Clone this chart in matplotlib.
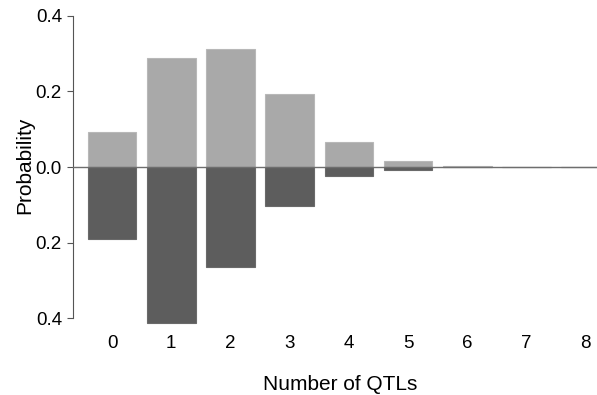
import matplotlib
matplotlib.use("Agg")
import matplotlib.pyplot as plt
from matplotlib.ticker import FuncFormatter

plt.rcParams['font.family'] = ['Liberation Sans', 'DejaVu Sans']

qtls = [0, 1, 2, 3, 4, 5, 6, 7, 8]
upper = [0.093, 0.289, 0.313, 0.193, 0.066, 0.017, 0.003, 0.0, 0.0]
lower = [0.190, 0.413, 0.265, 0.103, 0.024, 0.008, 0.001, 0.0, 0.0]

fig = plt.figure(figsize=(5.97, 3.95), dpi=100)
ax = fig.add_axes([0.1223, 0.1757, 0.8777, 0.803])

ax.bar(qtls, upper, width=0.82, color='#a9a9a9', edgecolor='#b8b8b8', linewidth=0.8, zorder=2)
ax.bar(qtls, [-v for v in lower], width=0.82, color='#5d5d5d', edgecolor='#6a6a6a', linewidth=0.8, zorder=2)
ax.axhline(0, color='#6e6e6e', linewidth=1.0, zorder=3)

ax.set_xlim(-0.66, 8.19)
ax.set_ylim(-0.42, 0.42)
ax.set_yticks([-0.4, -0.2, 0.0, 0.2, 0.4])
ax.yaxis.set_major_formatter(FuncFormatter(lambda v, p: f"{abs(v):.1f}"))
ax.set_xticks(qtls)

for s in ['top', 'right', 'bottom']:
    ax.spines[s].set_visible(False)
ax.spines['left'].set_bounds(-0.4, 0.4)
ax.spines['left'].set_color('#555555')
ax.tick_params(axis='y', direction='out', length=4, width=0.8, color='#555555', labelsize=13.5, pad=4)
ax.tick_params(axis='x', length=0, labelsize=13.5, pad=7)

ax.set_xlabel('Number of QTLs', fontsize=15)
ax.xaxis.label.set_va('baseline')
ax.xaxis.set_label_coords(0.5105, -0.203)
ax.set_ylabel('Probability', fontsize=15)
ax.yaxis.label.set_va('center')
ax.yaxis.set_label_coords(-0.0916, 0.506)

fig.savefig('out.png', dpi=100)
